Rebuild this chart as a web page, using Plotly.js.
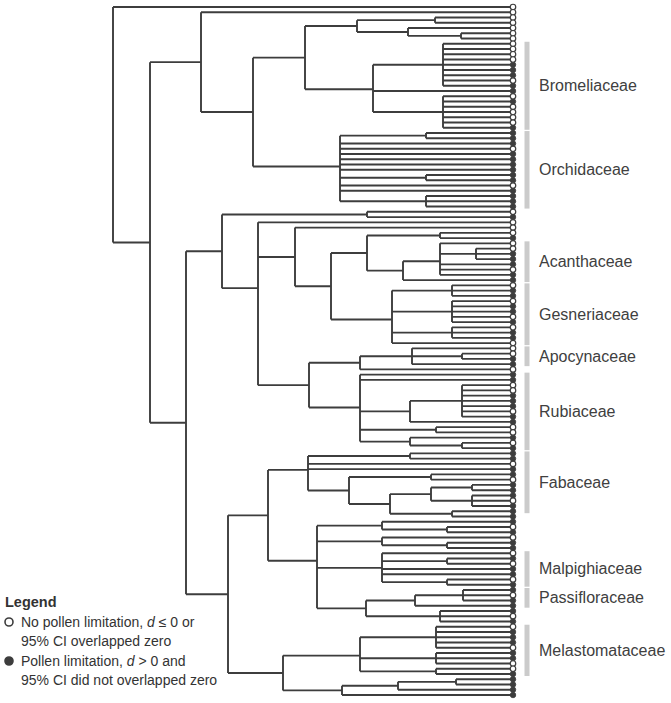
<!DOCTYPE html>
<html><head><meta charset="utf-8">
<script src="https://cdn.plot.ly/plotly-3.0.1.min.js"></script>
<style>html,body{margin:0;padding:0;background:#fff}#chart{width:671px;height:703px}</style>
</head><body><div id="chart"></div>
<script>
// ---------- DATA ----------
// Tree clades in Newick-like form: "t" = tip, number after ")" = horizontal position of the node.
const tipX = 512;
const cladeTop   = "(((t,t)435,(t,(t,t)461)408)357,{BROM})305";
const cladeBrom  = "((t,t,t,t,t,t,t,t,t)443,t,(t,t,t,t,t,t,t)443)373";
const cladeOrch  = "((t,t)426,t,t,t,t,t,t,(t,t)426,t,t,(t,t,t)426)340";
const cladeD     = "((t,t)367,(t,(t,({ACAN},{GESN})331)295,(({APOC},t)360,{RUBI})309)258)222";
const cladeAcan  = "((t,t)440,((t,(t,t,t)476,t,t,t)440,t)403)367";
const cladeGesn  = "((t,t,t)452,(t,t,t,t,t)452,(t,t,t)452,t)392";
const cladeApoc  = "(t,(t,t)462,t)412";
const cladeRubi  = "(t,t,((t,t,t,t,t,t,t)462,t)410,(t,t)436,(t,(t,t)462)410)360";
const cladeI     = "(({FABA},{KCL})268,({MELA},(((t,t)456,t)398,t)342)283)228";
const cladeFaba  = "((t,t)410,t,t,((t,t)431,(((t,t)472,(t,t,t)472)431,(t,t)452)390)349)308";
const cladeKcl   = "((t,(t,t)447)382,(t,(t,t)447)382,(t,(t,t)447,t,t,(t,t)447)382,(((t,t,t)463,t)415,(t,t,t)440)366)317";
const cladeMela  = "((t,t,t,t,t)436,(t,t,t)436,(t,t)436)360";
const treeRoot   = "(t,((t,({TOP},{ORCH})253)201,({D},{I})186)150)113";

// Tip status, top to bottom: o = no pollen limitation (open), f = pollen limitation (filled)
const tipStatus =
  "ooooooooooo" + "fff" + "o" + "ff" + "o" + "f" + "oooo" + "ffff" + "o" + "ffffff" + "o" + "ffff" +
  "o" + "f" + "ooo" + "f" + "oo" + "fff" + "o" + "ff" + "o" + "ff" + "o" + "ff" + "o" + "f" + "o" + "ff" +
  "ooo" + "ff" + "o" + "ff" + "oo" + "fff" + "o" + "ff" + "oo" + "f" + "o" + "fff" + "o" + "ff" + "o" +
  "fff" + "o" + "ffff" + "o" + "f" + "o" + "ff" + "o" + "f" + "o" + "ff" + "o" + "ff" + "o" + "fff" +
  "o" + "f" + "o" + "fff" + "o" + "ff" + "oo" + "fffff";

// Family bars (tip index ranges) and labels
const familyNames = ["Bromeliaceae","Orchidaceae","Acanthaceae","Gesneriaceae","Apocynaceae",
                     "Rubiaceae","Fabaceae","Malpighiaceae","Passifloraceae","Melastomataceae"];
const familyFirstTip = [7, 24, 45, 53, 65, 70, 85, 104, 111, 118];
const familyLastTip  = [23, 38, 52, 64, 68, 84, 96, 110, 114, 127];

// Legend texts
const legendTitle = "Legend";
const legendLines = ["No pollen limitation, <i>d</i> ≤ 0 or", "95% CI overlapped zero",
                     "Pollen limitation, <i>d</i> > 0 and", "95% CI did not overlapped zero"];

// ---------- BUILD ----------
let newick = treeRoot;
const subs = {TOP:cladeTop, BROM:cladeBrom, ORCH:cladeOrch, D:cladeD, ACAN:cladeAcan, GESN:cladeGesn,
  APOC:cladeApoc, RUBI:cladeRubi, I:cladeI, FABA:cladeFaba, KCL:cladeKcl, MELA:cladeMela};
while (/\{[A-Z]+\}/.test(newick)) newick = newick.replace(/\{([A-Z]+)\}/g, (m, k) => subs[k]);

function parseNewick(s){
  let i = 0;
  function node(){
    if (s[i] === '('){
      i++; const ch = [node()];
      while (s[i] === ','){ i++; ch.push(node()); }
      i++;
      const m = /^[0-9.]+/.exec(s.slice(i)); i += m[0].length;
      return {x: +m[0], children: ch};
    }
    i++; return {x: tipX, children: null};
  }
  return node();
}
const root = parseNewick(newick);
let tipCount = 0;
const tips = [];
function layout(n){
  if (!n.children){ n.y = tipCount++; tips.push(n); return n.y; }
  let s = 0; n.children.forEach(c => s += layout(c));
  n.y = s / n.children.length; return n.y;
}
layout(root);
const N = tipCount;
const lx = [], ly = [];
function segs(n){
  if (!n.children) return;
  const ys = n.children.map(c => c.y);
  lx.push(n.x, n.x, null); ly.push(Math.min(...ys), Math.max(...ys), null);
  n.children.forEach(c => { lx.push(n.x, c.x, null); ly.push(c.y, c.y, null); segs(c); });
}
segs(root);

// pixel geometry helpers (first tip at y=7px, last tip at y=695px)
const H = 703, W = 671;
const step = (695 - 7) / (N - 1);
const yTop = -7 / step, yBot = (H - 7) / step;
const pyToData = py => (py - 7) / step;

const openX = [], openY = [], fillX = [], fillY = [];
tips.forEach((t, i) => {
  if (tipStatus[i] === 'f'){ fillX.push(tipX + 1); fillY.push(t.y); }
  else { openX.push(tipX + 1); openY.push(t.y); }
});

const bx = [], by = [];
familyNames.forEach((f, i) => { bx.push(527, 527, null); by.push(familyFirstTip[i] - 0.38, familyLastTip[i] + 0.38, null); });

const lineColor = '#3d3d3d';
const font = 'Liberation Sans, Arial, Helvetica, sans-serif';
const traces = [
  {x: lx, y: ly, mode: 'lines', line: {color: lineColor, width: 1.9}, hoverinfo: 'skip'},
  {x: bx, y: by, mode: 'lines', line: {color: '#cbcbcb', width: 5}, hoverinfo: 'skip'},
  {x: fillX, y: fillY, mode: 'markers', marker: {size: 5.5, color: lineColor, line: {color: lineColor, width: 0.8}}, hoverinfo: 'skip'},
  {x: openX, y: openY, mode: 'markers', marker: {size: 5.5, color: '#ffffff', line: {color: lineColor, width: 1.2}}, hoverinfo: 'skip'},
  {x: [9, 9], y: [pyToData(622), pyToData(661)], mode: 'markers',
   marker: {size: 8, color: ['#ffffff', lineColor], line: {color: lineColor, width: 1.6}}, hoverinfo: 'skip'}
];

const annotations = familyNames.map((f, i) => ({
  x: 537, y: (familyFirstTip[i] + familyLastTip[i]) / 2, xref: 'x', yref: 'y', text: f,
  showarrow: false, xanchor: 'left', yanchor: 'middle', font: {family: font, size: 16, color: '#404040'}
}));
annotations.push({x: 3, y: pyToData(602), xref: 'x', yref: 'y', text: '<b>' + legendTitle + '</b>', showarrow: false,
  xanchor: 'left', yanchor: 'middle', font: {family: font, size: 14.5, color: '#333333'}});
const legendPy = [622, 641, 661, 680];
legendLines.forEach((t, i) => annotations.push({x: 19, y: pyToData(legendPy[i]), xref: 'x', yref: 'y', text: t,
  showarrow: false, xanchor: 'left', yanchor: 'middle', font: {family: font, size: 14, color: '#333333'}}));

Plotly.newPlot('chart', traces, {
  width: W, height: H, margin: {l: 0, r: 0, t: 0, b: 0}, showlegend: false,
  paper_bgcolor: '#ffffff', plot_bgcolor: '#ffffff',
  xaxis: {range: [0, W], visible: false, fixedrange: true},
  yaxis: {range: [yBot, yTop], visible: false, fixedrange: true},
  annotations: annotations
}, {staticPlot: true, displayModeBar: false});
</script></body></html>
